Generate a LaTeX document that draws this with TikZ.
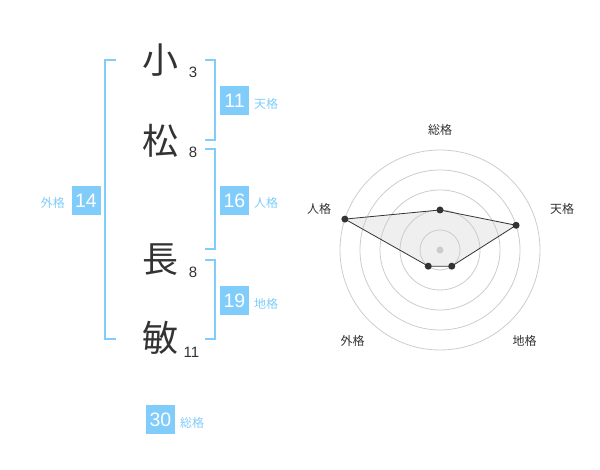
\documentclass[tikz,border=0pt]{standalone}
\usepackage{fontspec}
\setmainfont{Noto Sans CJK JP}
\newfontfamily\digitfont{Liberation Sans}
\definecolor{nblue}{HTML}{80CCFA}
\definecolor{ink}{HTML}{333333}
\definecolor{ringc}{HTML}{CCCCCC}
\definecolor{fillc}{HTML}{EFEFEF}
\begin{document}
\begin{tikzpicture}[x=1pt,y=-1pt,
  kanji/.style={font=\fontsize{36}{36}\selectfont, text=ink, inner sep=0},
  strokes/.style={font=\digitfont\fontsize{15}{15}\selectfont, text=ink, inner sep=0},
  numbox/.style={fill=nblue, text=white, minimum size=29pt, inner sep=0, font=\digitfont\fontsize{19.5}{19.5}\selectfont},
  kaku/.style={text=nblue, font=\fontsize{12}{12}\selectfont, inner sep=0},
  bracket/.style={draw=nblue, line width=2pt},
  ring/.style={draw=ringc, line width=0.8pt},
  rlabel/.style={text=ink, font=\fontsize{12}{12}\selectfont, inner sep=0},
  dot/.style={circle, fill=ink, inner sep=0, minimum size=7pt}]
\useasboundingbox (0,0) rectangle (600,470);
% name characters
\node[kanji] (c1) at (160,60) {小};
\node[kanji] (c2) at (160,141) {松};
\node[kanji] (c3) at (160,260) {長};
\node[kanji] (c4) at (160,338) {敏};
\node[strokes] (s1) at (193,72) {3};
\node[strokes] (s2) at (193,152.5) {8};
\node[strokes] (s3) at (193,272.5) {8};
\node[strokes] (s4) at (191.5,352.5) {11};
% brackets
\draw[bracket] (116,60) -- (105,60) -- (105,339.5) -- (116,339.5);
\draw[bracket] (205,60) -- (214.5,60) -- (214.5,140) -- (205,140);
\draw[bracket] (205,149.5) -- (214.5,149.5) -- (214.5,249.5) -- (205,249.5);
\draw[bracket] (205,260) -- (214.5,260) -- (214.5,339.5) -- (205,339.5);
% boxes
\node[numbox] (ten) at (234.5,100.5) {11};
\node[kaku, anchor=west] (tenl) at (254,104) {天格};
\node[numbox] (jin) at (234.5,200.5) {16};
\node[kaku, anchor=west] (jinl) at (254,203) {人格};
\node[numbox] (chi) at (234.5,300.5) {19};
\node[kaku, anchor=west] (chil) at (254,304) {地格};
\node[numbox] (gai) at (86,200.5) {14};
\node[kaku, anchor=east] (gail) at (65,203) {外格};
\node[numbox] (sou) at (160.5,419.5) {30};
\node[kaku, anchor=west] (soul) at (180,422.5) {総格};
% radar chart
\begin{scope}[shift={(440,250)}, y=1pt]
  \coordinate (p1) at (90:40);
  \coordinate (p2) at (18:80);
  \coordinate (p3) at (-54:20);
  \coordinate (p4) at (-126:20);
  \coordinate (p5) at (162:100);
  \fill[fillc] (p1) -- (p2) -- (p3) -- (p4) -- (p5) -- cycle;
  \foreach \r in {20,40,60,80,100} \draw[ring] (0,0) circle[radius=\r];
  \fill[ringc] (0,0) circle[radius=3.5];
  \draw[ink, line width=0.8pt] (p1) -- (p2) -- (p3) -- (p4) -- (p5) -- cycle;
  \foreach \p in {p1,p2,p3,p4,p5} \node[dot] (d\p) at (\p) {};
\end{scope}
\node[rlabel] (l1) at (440,130) {総格};
\node[rlabel] (l2) at (562,208.5) {天格};
\node[rlabel] (l3) at (524.5,341) {地格};
\node[rlabel] (l4) at (352.5,341) {外格};
\node[rlabel] (l5) at (319,208.5) {人格};
\end{tikzpicture}
\end{document}
